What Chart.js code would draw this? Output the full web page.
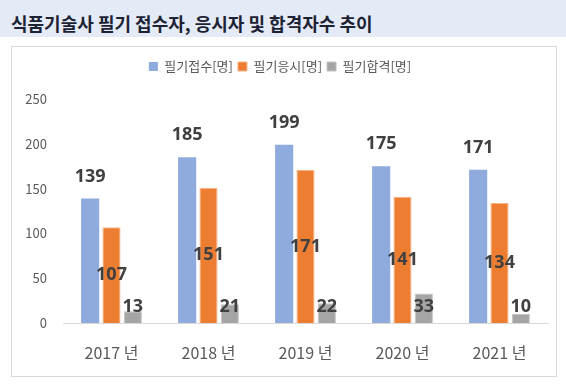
<!DOCTYPE html>
<html>
<head>
<meta charset="utf-8">
<script src="https://cdn.jsdelivr.net/npm/chart.js@4"></script>
<style>
  body { margin: 0; width: 566px; height: 389px; background: #fff; position: relative; overflow: hidden; }
  #band { position: absolute; left: 0; top: 0; width: 566px; height: 37px; background: #E4EBF7; }
  #title { position: absolute; left: 11px; top: 12px; font: bold 18px "Noto Sans CJK KR", sans-serif; line-height: 22px; color: #1c2233; white-space: nowrap; }
  #box { position: absolute; left: 11px; top: 46px; width: 544px; height: 329px; border: 1px solid #D9D9D9; }
</style>
</head>
<body>
<div id="band"><span id="title">식품기술사 필기 접수자, 응시자 및 합격자수 추이</span></div>
<div id="box"><canvas id="chart" width="544" height="329"></canvas></div>
<script>
// data
const years = ['2017 년', '2018 년', '2019 년', '2020 년', '2021 년'];
const applied = [139, 185, 199, 175, 171];
const tested = [107, 151, 171, 141, 134];
const passed = [13, 21, 22, 33, 10];
const seriesNames = ['필기접수[명]', '필기응시[명]', '필기합격[명]'];

// value labels: first series above the bar, the others centred (kept above the axis)
const valueLabels = {
    id: 'valueLabels',
    afterDatasetsDraw(chart) {
        const ctx = chart.ctx;
        ctx.save();
        ctx.font = 'bold 18px "Noto Sans", sans-serif';
        ctx.fillStyle = '#404040';
        ctx.textAlign = 'center';
        ctx.textBaseline = 'middle';
        chart.data.datasets.forEach((ds, i) => {
            chart.getDatasetMeta(i).data.forEach((bar, j) => {
                let y;
                if (i === 0) {
                    y = bar.y - 22;
                } else {
                    y = Math.min((bar.y + bar.base) / 2, bar.base - 16);
                }
                ctx.fillText(ds.data[j], bar.x, y);
            });
        });
        ctx.restore();
    }
};

// give the legend a fixed block height
const legendSpace = {
    id: 'legendSpace',
    beforeInit(chart) {
        const fit = chart.legend.fit;
        chart.legend.fit = function () {
            fit.call(this);
            this.height = 44;
        };
    }
};

new Chart(document.getElementById('chart'), {
    type: 'bar',
    data: {
        labels: years,
        datasets: [{
            label: seriesNames[0],
            data: applied,
            backgroundColor: '#8FAADC',
            borderWidth: 0
        }, {
            label: seriesNames[1],
            data: tested,
            backgroundColor: '#ED7D31',
            borderColor: '#F5B48A',
            borderWidth: 1
        }, {
            label: seriesNames[2],
            data: passed,
            backgroundColor: '#A5A5A5',
            borderColor: '#C4C4C4',
            borderWidth: 1
        }]
    },
    options: {
        responsive: false,
        animation: false,
        devicePixelRatio: 1,
        categoryPercentage: 0.66,
        barPercentage: 0.85,
        layout: { padding: { top: 8, right: 8, left: 0, bottom: 0 } },
        plugins: {
            tooltip: { enabled: false },
            legend: {
                position: 'top',
                labels: {
                    boxWidth: 9,
                    boxHeight: 9,
                    padding: 5,
                    color: '#595959',
                    font: { family: '"Noto Sans CJK KR"', size: 13 }
                }
            }
        },
        scales: {
            x: {
                grid: { display: false, drawTicks: false },
                border: { display: true, color: '#D9D9D9', width: 1 },
                ticks: {
                    padding: 20,
                    color: '#595959',
                    font: { family: '"Noto Sans CJK KR"', size: 16 }
                },
                afterFit: s => { s.height = 53; }
            },
            y: {
                min: 0,
                max: 250,
                grid: { display: false, drawTicks: false },
                border: { display: false },
                ticks: {
                    stepSize: 50,
                    padding: 16,
                    color: '#595959',
                    font: { family: '"Noto Sans CJK KR"', size: 13 }
                },
                afterFit: s => { s.width = 51; }
            }
        }
    },
    plugins: [valueLabels, legendSpace]
});
</script>
</body>
</html>
